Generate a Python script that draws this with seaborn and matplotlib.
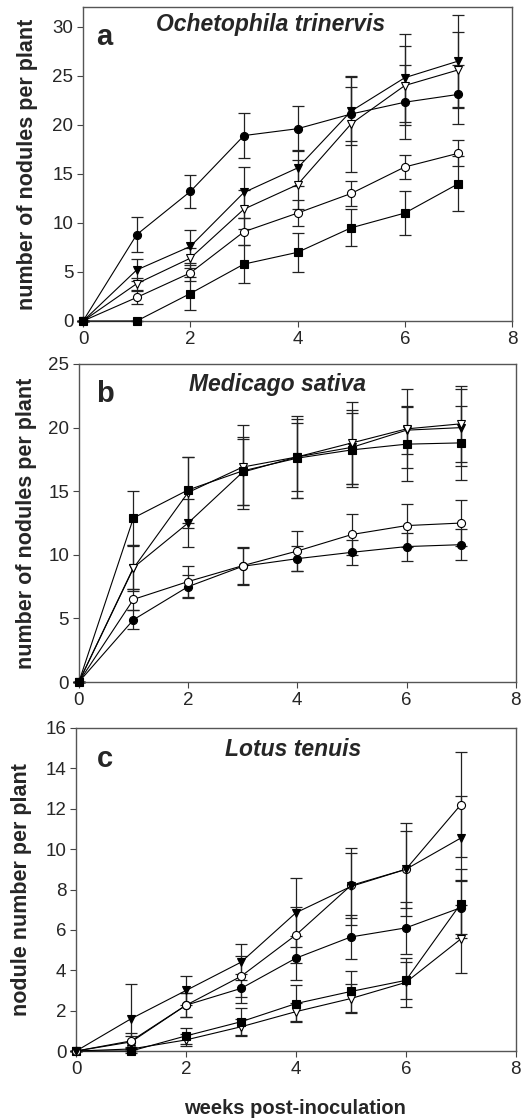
import matplotlib
matplotlib.use("Agg")
import matplotlib.pyplot as plt
import seaborn as sns

weeks = [0, 1, 2, 3, 4, 5, 6, 7]

# panel a - Ochetophila trinervis
a_fc = [0, 8.8, 13.2, 18.9, 19.6, 21.1, 22.3, 23.1]
a_fc_err = [0, 1.8, 1.7, 2.3, 2.3, 2.8, 3.8, 3.0]
a_ft = [0, 5.2, 7.6, 13.1, 15.6, 21.4, 24.8, 26.5]
a_ft_err = [0, 1.1, 1.7, 2.6, 1.8, 3.5, 4.5, 4.7]
a_ot = [0, 3.8, 6.4, 11.4, 13.9, 20.1, 24.0, 25.6]
a_ot_err = [0, 0.6, 1.0, 2.0, 2.5, 4.9, 4.0, 3.9]
a_oc = [0, 2.4, 4.9, 9.1, 11.0, 13.0, 15.7, 17.1]
a_oc_err = [0, 0.7, 0.8, 1.4, 1.3, 1.3, 1.2, 1.3]
a_fs = [0, 0, 2.8, 5.8, 7.0, 9.5, 11.0, 14.0]
a_fs_err = [0, 0, 1.7, 1.9, 2.0, 1.9, 2.2, 2.8]

# panel b - Medicago sativa
b_fs = [0, 12.9, 15.1, 16.6, 17.6, 18.25, 18.7, 18.8]
b_fs_err = [0, 2.1, 2.6, 2.7, 3.1, 2.9, 2.9, 2.9]
b_ot = [0, 8.95, 14.9, 16.9, 17.7, 18.8, 19.9, 20.3]
b_ot_err = [0, 1.8, 2.8, 3.3, 3.2, 3.2, 3.1, 3.0]
b_ft = [0, 9.0, 12.5, 16.5, 17.7, 18.45, 19.8, 20.0]
b_ft_err = [0, 1.7, 1.9, 2.6, 2.7, 2.9, 1.9, 3.0]
b_oc = [0, 6.5, 7.9, 9.15, 10.3, 11.6, 12.3, 12.5]
b_oc_err = [0, 0.8, 1.2, 1.5, 1.6, 1.6, 1.7, 1.8]
b_fc = [0, 4.9, 7.5, 9.1, 9.7, 10.2, 10.65, 10.8]
b_fc_err = [0, 0.75, 0.9, 1.4, 1.0, 1.0, 1.1, 1.2]

# panel c - Lotus tenuis
c_ft = [0, 1.6, 3.0, 4.4, 6.85, 8.15, 9.0, 10.55]
c_ft_err = [0, 1.7, 0.7, 0.9, 1.7, 1.9, 2.3, 2.1]
c_oc = [0, 0.5, 2.27, 3.7, 5.75, 8.2, 9.0, 12.2]
c_oc_err = [0, 0.4, 0.6, 1.0, 1.4, 1.6, 1.9, 2.6]
c_fc = [0, 0.45, 2.27, 3.1, 4.6, 5.65, 6.1, 7.1]
c_fc_err = [0, 0.3, 0.6, 0.7, 1.1, 1.1, 1.3, 1.3]
c_fs = [0, 0, 0.75, 1.45, 2.35, 2.95, 3.5, 7.3]
c_fs_err = [0, 0, 0.4, 0.7, 0.9, 1.0, 0.9, 1.7]
c_ot = [0, 0.1, 0.55, 1.2, 1.95, 2.6, 3.4, 5.55]
c_ot_err = [0, 0.1, 0.3, 0.4, 0.45, 0.7, 1.2, 1.7]

# marker, face colour per series key
styles = {
    "fc": ("o", "black"),
    "oc": ("o", "white"),
    "ft": ("v", "black"),
    "ot": ("v", "white"),
    "fs": ("s", "black"),
}

panels = [
    dict(letter="a", title="Ochetophila trinervis", ylabel="number of nodules per plant",
         ylim=32, yticks=[0, 5, 10, 15, 20, 25, 30],
         series=[("fs", a_fs, a_fs_err), ("oc", a_oc, a_oc_err), ("ot", a_ot, a_ot_err),
                 ("ft", a_ft, a_ft_err), ("fc", a_fc, a_fc_err)],
         rect=[0.157, 0.7134, 0.811, 0.2803], title_x=0.436, title_y=0.943,
         let_x=0.05, lab_x=-0.105),
    dict(letter="b", title="Medicago sativa", ylabel="number of nodules per plant",
         ylim=25, yticks=[0, 5, 10, 15, 20, 25],
         series=[("fc", b_fc, b_fc_err), ("oc", b_oc, b_oc_err), ("ft", b_ft, b_ft_err),
                 ("ot", b_ot, b_ot_err), ("fs", b_fs, b_fs_err)],
         rect=[0.149, 0.391, 0.826, 0.284], title_x=0.455, title_y=0.934,
         let_x=0.06, lab_x=-0.096),
    dict(letter="c", title="Lotus tenuis", ylabel="nodule number per plant",
         ylim=16, yticks=[0, 2, 4, 6, 8, 10, 12, 14, 16],
         series=[("ot", c_ot, c_ot_err), ("fs", c_fs, c_fs_err), ("fc", c_fc, c_fc_err),
                 ("oc", c_oc, c_oc_err), ("ft", c_ft, c_ft_err)],
         rect=[0.144, 0.0616, 0.831, 0.2884], title_x=0.493, title_y=0.932,
         let_x=0.066, lab_x=-0.10),
]

sns.set_style("ticks")
plt.rcParams["font.family"] = ["Liberation Sans", "DejaVu Sans"]

fig = plt.figure(figsize=(5.29, 11.2), dpi=100)

for p in panels:
    ax = fig.add_axes(p["rect"])
    for key, vals, errs in p["series"]:
        marker, face = styles[key]
        ax.errorbar(weeks, vals, yerr=errs, fmt="none", ecolor="#222222",
                    elinewidth=0.9, capsize=4, capthick=0.9, zorder=2, clip_on=False)
        sns.lineplot(x=weeks, y=vals, ax=ax, color="black", linewidth=0.8,
                     marker=marker, markersize=5.8, markerfacecolor=face,
                     markeredgecolor="black", markeredgewidth=0.8,
                     zorder=3, clip_on=False)
    ax.set_xlim(0, 8)
    ax.set_ylim(0, p["ylim"])
    ax.set_xticks([0, 2, 4, 6, 8])
    ax.set_yticks(p["yticks"])
    ax.tick_params(labelsize=13.5, length=4, width=0.8, color="#444444", pad=3)
    for s in ax.spines.values():
        s.set_linewidth(1.0)
        s.set_color("#555555")
    ax.set_ylabel(p["ylabel"], fontsize=15.5, fontweight="bold")
    ax.yaxis.set_label_coords(p["lab_x"], 0.5)
    ax.set_xlabel("")
    ax.text(p["title_x"], p["title_y"], p["title"], transform=ax.transAxes,
            fontsize=16.5, fontweight="bold", fontstyle="italic", ha="center", va="center")
    ax.text(p["let_x"], 0.905, p["letter"], transform=ax.transAxes,
            fontsize=21, fontweight="bold", ha="center", va="center")

fig.text(0.558, 0.0107, "weeks post-inoculation", fontsize=14.5, fontweight="bold",
         ha="center", va="center")

fig.savefig("out.png", dpi=100)
